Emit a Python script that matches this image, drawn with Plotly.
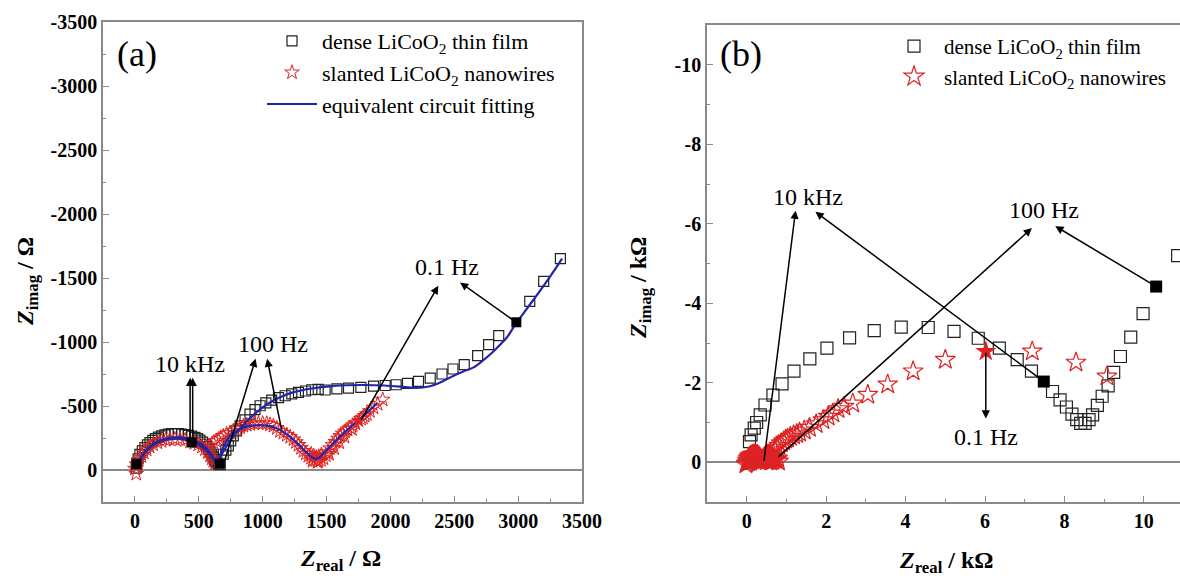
import plotly.graph_objects as go

# ---------------- Panel (a) data (Ohm) ----------------
a_dense_x = [10, 15, 25, 39, 58, 78, 98, 118, 140, 160, 184, 209, 235, 261, 287, 313, 340, 366, 392, 418,
             444, 470, 490, 509, 530, 549, 563, 576, 588, 601, 612, 622, 632, 643, 655, 668,
             692, 712, 731, 750, 770, 796, 823, 862, 901, 940, 980, 1025, 1071, 1124, 1176, 1228, 1280,
             1335, 1385, 1435, 1489, 1581, 1672, 1769, 1868, 1959, 2045, 2134, 2220, 2312, 2404, 2490,
             2578, 2683, 2769, 2848, 3091, 3200, 3331]
a_dense_y = [-15, -50, -88, -122, -150, -175, -196, -214, -231, -245, -257, -266, -274, -280, -284, -285, -284, -281, -277, -271,
             -264, -255, -245, -233, -218, -201, -182, -162, -142, -123, -103, -84, -68, -55, -45, -42,
             -123, -155, -188, -228, -266, -305, -345, -392, -437, -472, -502, -525, -546, -565, -580, -594, -606,
             -617, -627, -630, -625, -634, -640, -645, -655, -660, -666, -676, -692, -718, -750, -789,
             -823, -893, -980, -1050, -1317, -1473, -1651]

a_wire_x = [10, 0, 13, 30, 50, 70, 92, 115, 143, 175, 209, 240, 274, 313, 353, 392, 431, 465, 496, 525,
            549, 570, 588, 602, 614, 628,
            588, 614, 635, 653, 672, 692, 718, 744, 770, 797, 823, 849, 875, 901, 934, 967, 1000, 1032,
            1058, 1084, 1110, 1136, 1162, 1189, 1215, 1241, 1260, 1280, 1300, 1319, 1338, 1358, 1378, 1398,
            1418, 1437, 1457, 1476, 1495, 1512, 1528, 1548, 1570, 1590, 1607, 1626, 1645, 1665, 1685, 1705,
            1725, 1770, 1785, 1800, 1816, 1840, 1868, 1900, 1940,
            1380, 1400, 1420, 1440, 1460, 1390, 1430, 1520, 1560, 1600, 1640, 1700]
a_wire_y = [30, -10, -44, -78, -108, -136, -160, -182, -200, -215, -226, -234, -239, -241, -239, -233, -222, -211, -199, -182,
            -162, -138, -112, -90, -70, -55,
            -188, -214, -228, -240, -254, -266, -280, -292, -306, -319, -333, -345, -352, -358, -363, -366, -365, -363,
            -355, -345, -328, -305, -290, -274, -258, -240, -218, -196, -172, -149, -128, -110, -95, -84,
            -75, -70, -78, -91, -115, -140, -170, -195, -220, -245, -266, -285, -300, -316, -331, -348,
            -365, -400, -410, -423, -436, -460, -488, -515, -550,
            -125, -110, -100, -105, -120, -70, -62, -125, -170, -215, -260, -320]

a_fit_dense_x = [20, 40, 70, 110, 160, 220, 280, 340, 400, 460, 510, 555, 590, 615, 632, 645,
                 660, 690, 730, 770, 820, 880, 940, 1000, 1070, 1150, 1250, 1370, 1500, 1650, 1800,
                 1950, 2100, 2200, 2300, 2390, 2495, 2570, 2651, 2730, 2800, 2870, 2913, 2980, 3050,
                 3120, 3174, 3250, 3344]
a_fit_dense_y = [-45, -85, -130, -175, -212, -240, -252, -255, -250, -235, -210, -175, -135, -95, -65, -50,
                 -80, -140, -205, -260, -320, -385, -440, -490, -535, -575, -610, -635, -652, -662, -664,
                 -660, -650, -642, -652, -684, -737, -770, -802, -860, -920, -990, -1037, -1140, -1235,
                 -1330, -1403, -1510, -1651]

a_fit_wire_x = [15, 40, 80, 130, 190, 260, 330, 400, 460, 520, 570, 605, 628, 642,
                680, 720, 770, 830, 900, 970, 1040, 1100, 1160, 1220, 1280, 1330, 1380, 1415,
                1440, 1480, 1540, 1600, 1660, 1720, 1780, 1840, 1900]
a_fit_wire_y = [-40, -90, -140, -185, -220, -240, -245, -238, -220, -185, -140, -95, -60, -50,
                -150, -230, -290, -325, -343, -350, -345, -330, -300, -255, -200, -150, -105, -88,
                -95, -135, -195, -255, -310, -365, -415, -470, -525]

a_dense_filled_x = [12, 445, 665, 2986]
a_dense_filled_y = [-45, -215, -50, -1154]
a_wire_filled_x = [1752]
a_wire_filled_y = [-384]

# ---------------- Panel (b) data (kOhm) ----------------
b_dense_x = [0.07, 0.11, 0.19, 0.25, 0.34, 0.46, 0.66, 0.89, 1.19, 1.59, 2.02, 2.59, 3.21, 3.89, 4.57,
             5.22, 5.83, 6.36, 6.81, 7.17, 7.70, 7.89, 8.05, 8.19, 8.31, 8.41, 8.52, 8.62, 8.71,
             8.83, 8.95, 9.10, 9.24, 9.41, 9.67, 9.98, 10.85]
b_dense_y = [-0.52, -0.69, -0.86, -1.00, -1.19, -1.44, -1.69, -1.97, -2.29, -2.60, -2.87, -3.13, -3.31, -3.40, -3.39,
             -3.29, -3.12, -2.87, -2.58, -2.29, -1.78, -1.57, -1.39, -1.21, -1.07, -0.98, -0.98, -1.07, -1.19,
             -1.43, -1.66, -1.92, -2.26, -2.66, -3.15, -3.74, -5.20]

b_wire_x = [0.00, 0.02, 0.04, 0.07, 0.10, 0.14, 0.18, 0.22, 0.26, 0.30, 0.33, 0.36, 0.38, 0.40, 0.42,
            0.45, 0.49, 0.53, 0.57, 0.61, 0.65, 0.69, 0.72, 0.75, 0.05, 0.15, 0.25, 0.35, 0.55, 0.65,
            0.03, 0.08, 0.12, 0.16, 0.20, 0.24, 0.28, 0.32, 0.44, 0.48, 0.52, 0.56, 0.60, 0.64, 0.68,
            0.10, 0.20, 0.30, 0.50, 0.60, 0.78, 0.80, -0.02,
            0.70, 0.76, 0.81, 0.87, 0.93, 0.98, 1.03, 1.10, 1.18, 1.26, 1.33, 1.45, 1.58, 1.75, 1.92,
            2.05, 2.17, 2.30, 2.45, 2.67, 3.05, 3.55, 4.19, 5.00, 7.19, 8.29, 9.07]
b_wire_y = [0.02, -0.05, -0.10, -0.14, -0.17, -0.19, -0.20, -0.20, -0.19, -0.16, -0.12, -0.08, -0.05, -0.06, -0.10,
            -0.14, -0.17, -0.19, -0.19, -0.17, -0.14, -0.10, -0.07, -0.06, 0.00, -0.05, -0.08, -0.03, -0.05, -0.03,
            -0.03, -0.08, -0.12, -0.15, -0.16, -0.15, -0.13, -0.10, -0.08, -0.12, -0.14, -0.15, -0.13, -0.10, -0.06,
            -0.02, -0.05, -0.04, -0.03, -0.02, -0.10, -0.02, 0.05,
            -0.31, -0.37, -0.42, -0.48, -0.53, -0.57, -0.60, -0.64, -0.68, -0.71, -0.75, -0.80, -0.87, -0.96, -1.06,
            -1.15, -1.23, -1.34, -1.40, -1.48, -1.70, -1.96, -2.29, -2.58, -2.79, -2.51, -2.16]

b_dense_filled_x = [7.48, 10.31]
b_dense_filled_y = [-2.03, -4.42]
b_wire_filled_x = [6.02]
b_wire_filled_y = [-2.79]

# ---------------- ticks ----------------
a_xtick_vals = [0, 500, 1000, 1500, 2000, 2500, 3000, 3500]
a_xtick_text = ["0", "500", "1000", "1500", "2000", "2500", "3000", "3500"]
a_ytick_vals = [0, -500, -1000, -1500, -2000, -2500, -3000, -3500]
a_ytick_text = ["0", "-500", "-1000", "-1500", "-2000", "-2500", "-3000", "-3500"]
b_xtick_vals = [0, 2, 4, 6, 8, 10]
b_xtick_text = ["0", "2", "4", "6", "8", "10"]
b_ytick_vals = [0, -2, -4, -6, -8, -10]
b_ytick_text = ["0", "-2", "-4", "-6", "-8", "-10"]

# ---------------- frequency annotations ----------------
a_labels = ["10 kHz", "100 Hz", "0.1 Hz"]
a_label_x = [430, 1078, 2445]
a_label_y = [-832, -987, -1583]
# (tail x, tail y, head x, head y)
a_arrows = [(432, -220, 432, -720), (452, -230, 452, -720),
            (700, -65, 945, -870), (1150, -305, 1035, -870),
            (1765, -380, 2375, -1440), (2990, -1150, 2545, -1465)]

b_labels = ["10 kHz", "100 Hz", "0.1 Hz"]
b_label_x = [1.55, 7.49, 6.03]
b_label_y = [-6.68, -6.35, -0.64]
b_arrows = [(0.43, 0.0, 1.23, -6.33), (7.48, -2.03, 1.73, -6.30),
            (0.76, -0.10, 7.18, -5.89), (10.31, -4.42, 7.77, -5.94),
            (6.02, -2.79, 6.02, -1.10)]

# ---------------- styles ----------------
SERIF = "Liberation Serif"
RED = "#dc2323"
BLUE = "#2424aa"
GRAY = "#8a8a8a"

fig = go.Figure()

# Panel (a)
fig.add_trace(go.Scatter(x=a_dense_x, y=a_dense_y, mode="markers", xaxis="x", yaxis="y",
                         name="dense LiCoO<sub>2</sub> thin film", legend="legend",
                         marker=dict(symbol="square-open", size=10, color="#222", line=dict(width=1.2))))
fig.add_trace(go.Scatter(x=a_wire_x, y=a_wire_y, mode="markers", xaxis="x", yaxis="y",
                         name="slanted LiCoO<sub>2</sub> nanowires", legend="legend",
                         marker=dict(symbol="star-open", size=11, color=RED, line=dict(width=1))))
fig.add_trace(go.Scatter(x=a_fit_dense_x, y=a_fit_dense_y, mode="lines", xaxis="x", yaxis="y",
                         name="equivalent circuit fitting", legend="legend",
                         line=dict(color=BLUE, width=2.2, shape="spline")))
fig.add_trace(go.Scatter(x=a_fit_wire_x, y=a_fit_wire_y, mode="lines", xaxis="x", yaxis="y",
                         showlegend=False, line=dict(color=BLUE, width=2.2, shape="spline")))
fig.add_trace(go.Scatter(x=a_dense_filled_x, y=a_dense_filled_y, mode="markers", xaxis="x", yaxis="y",
                         showlegend=False, marker=dict(symbol="square", size=10, color="black")))
fig.add_trace(go.Scatter(x=a_wire_filled_x, y=a_wire_filled_y, mode="markers", xaxis="x", yaxis="y",
                         showlegend=False, marker=dict(symbol="star", size=12, color=RED)))

# Panel (b)
fig.add_trace(go.Scatter(x=b_dense_x, y=b_dense_y, mode="markers", xaxis="x2", yaxis="y2",
                         name="dense LiCoO<sub>2</sub> thin film", legend="legend2",
                         marker=dict(symbol="square-open", size=12, color="#222", line=dict(width=1.2))))
fig.add_trace(go.Scatter(x=b_wire_x, y=b_wire_y, mode="markers", xaxis="x2", yaxis="y2",
                         name="slanted LiCoO<sub>2</sub> nanowires", legend="legend2",
                         marker=dict(symbol="star-open", size=15, color=RED, line=dict(width=1.2))))
fig.add_trace(go.Scatter(x=b_dense_filled_x, y=b_dense_filled_y, mode="markers", xaxis="x2", yaxis="y2",
                         showlegend=False, marker=dict(symbol="square", size=12, color="black")))
fig.add_trace(go.Scatter(x=b_wire_filled_x, y=b_wire_filled_y, mode="markers", xaxis="x2", yaxis="y2",
                         showlegend=False, marker=dict(symbol="star", size=16, color=RED)))

W, H = 1180, 579
def px(v):
    return v / W
def py(v):
    return 1 - v / H

tickfont = dict(family=SERIF, size=20, color="black", weight="bold")
common_axis = dict(showline=True, linecolor=GRAY, linewidth=1.5, ticks="inside", ticklen=6,
                   tickwidth=1.3, tickcolor=GRAY, showgrid=False, tickfont=tickfont)

annotations = []
for t, x, y in zip(a_labels, a_label_x, a_label_y):
    annotations.append(dict(x=x, y=y, xref="x", yref="y", text=t, showarrow=False,
                            xanchor="center", yanchor="middle",
                            font=dict(family=SERIF, size=24, color="black")))
for (tx, ty, hx, hy) in a_arrows:
    annotations.append(dict(x=hx, y=hy, ax=tx, ay=ty, xref="x", yref="y", axref="x", ayref="y",
                            text="", showarrow=True, arrowhead=2, arrowsize=1.1, arrowwidth=1.5,
                            arrowcolor="black", standoff=0, startstandoff=0))
for t, x, y in zip(b_labels, b_label_x, b_label_y):
    annotations.append(dict(x=x, y=y, xref="x2", yref="y2", text=t, showarrow=False,
                            xanchor="center", yanchor="middle",
                            font=dict(family=SERIF, size=24, color="black")))
for (tx, ty, hx, hy) in b_arrows:
    annotations.append(dict(x=hx, y=hy, ax=tx, ay=ty, xref="x2", yref="y2", axref="x2", ayref="y2",
                            text="", showarrow=True, arrowhead=2, arrowsize=1.1, arrowwidth=1.5,
                            arrowcolor="black", standoff=0, startstandoff=0))

def paper_text(x, y, text, size, angle=0):
    return dict(x=px(x), y=py(y), xref="paper", yref="paper", text=text, showarrow=False,
                xanchor="center", yanchor="middle", textangle=angle,
                font=dict(family=SERIF, size=size, color="black"))

# panel tags
annotations.append(paper_text(137, 54, "(a)", 36))
annotations.append(paper_text(741, 54, "(b)", 36))

# axis titles
annotations.append(paper_text(340, 560, "<b><i>Z</i><sub>real</sub> / Ω</b>", 24))
annotations.append(paper_text(27, 282, "<b><i>Z</i><sub>imag</sub> / Ω</b>", 24, -90))
annotations.append(paper_text(946, 562, "<b><i>Z</i><sub>real</sub> / kΩ</b>", 24))
annotations.append(paper_text(640, 288, "<b><i>Z</i><sub>imag</sub> / kΩ</b>", 24, -90))

minor_a = dict(dtick=250, tick0=0, ticks="inside", ticklen=3, tickcolor=GRAY, tickwidth=1.2)
minor_b = dict(dtick=1, tick0=0, ticks="inside", ticklen=3, tickcolor=GRAY, tickwidth=1.2)

fig.update_layout(
    width=W, height=H, margin=dict(l=0, r=0, t=0, b=0, autoexpand=False),
    paper_bgcolor="white", plot_bgcolor="white",
    xaxis=dict(domain=[px(103), px(582)], range=[-250, 3500], tickvals=a_xtick_vals, ticktext=a_xtick_text,
               zeroline=False, mirror=True, anchor="y", minor=minor_a, **common_axis),
    yaxis=dict(domain=[py(502), py(22)], range=[250, -3500], tickvals=a_ytick_vals, ticktext=a_ytick_text,
               zeroline=True, zerolinecolor=GRAY, zerolinewidth=1.5, mirror=True, anchor="x",
               minor=minor_a, **common_axis),
    xaxis2=dict(domain=[px(707), 1.0], range=[-1.0, 10.91], tickvals=b_xtick_vals, ticktext=b_xtick_text,
                zeroline=False, mirror=True, anchor="y2", minor=minor_b, **common_axis),
    yaxis2=dict(domain=[py(502), py(25)], range=[1.0, -11.0], tickvals=b_ytick_vals, ticktext=b_ytick_text,
                zeroline=True, zerolinecolor=GRAY, zerolinewidth=1.5, mirror=False, anchor="x2",
                minor=minor_b, **common_axis),
    legend=dict(x=px(262), y=py(20), xanchor="left", yanchor="top", bgcolor="rgba(0,0,0,0)",
                font=dict(family=SERIF, size=22, color="black"), itemwidth=50, tracegroupgap=0),
    legend2=dict(x=px(884), y=py(26), xanchor="left", yanchor="top", bgcolor="rgba(0,0,0,0)",
                 font=dict(family=SERIF, size=21, color="black"), itemwidth=50, tracegroupgap=0),
    annotations=annotations,
)

fig.write_html("out.html")
